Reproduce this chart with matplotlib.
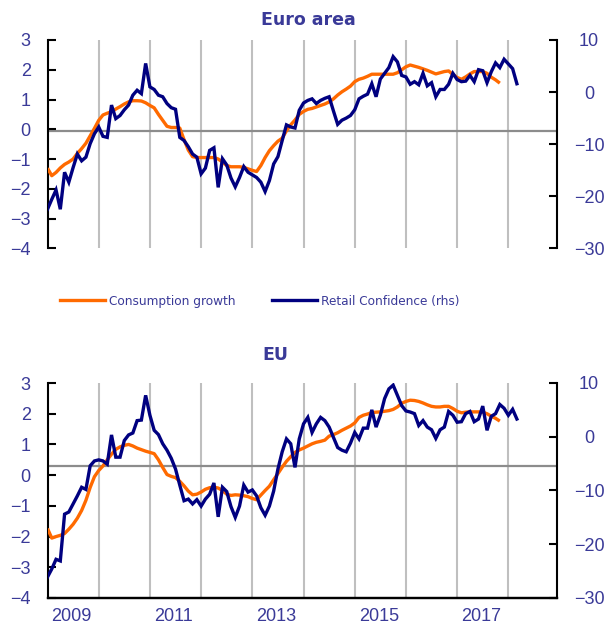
import numpy as np
import matplotlib
matplotlib.use("Agg")
import matplotlib.pyplot as plt
from matplotlib.lines import Line2D

# ---- data (monthly, starting Jan 2009) ----
start_year = 2009
ea_consumption = [-1.31, -1.56, -1.45, -1.30, -1.18, -1.10, -1.00, -0.81, -0.65, -0.47,
                  -0.22, 0.03, 0.30, 0.48, 0.54, 0.59, 0.68, 0.76, 0.85, 0.92,
                  0.96, 0.96, 0.95, 0.89, 0.80, 0.72, 0.50, 0.30, 0.10, 0.06,
                  0.06, 0.04, -0.35, -0.70, -0.92, -0.95, -0.95, -0.95, -0.95, -0.95,
                  -1.00, -1.10, -1.22, -1.26, -1.26, -1.26, -1.28, -1.33, -1.38, -1.42,
                  -1.22, -0.95, -0.72, -0.55, -0.40, -0.30, -0.05, 0.15, 0.31, 0.50,
                  0.60, 0.67, 0.70, 0.75, 0.80, 0.85, 0.92, 1.02, 1.15, 1.26,
                  1.35, 1.45, 1.60, 1.68, 1.72, 1.78, 1.85, 1.85, 1.85, 1.85,
                  1.85, 1.85, 1.90, 2.00, 2.10, 2.16, 2.12, 2.08, 2.03, 1.98,
                  1.92, 1.86, 1.90, 1.94, 1.96, 1.84, 1.74, 1.68, 1.76, 1.86,
                  1.94, 1.94, 1.94, 1.88, 1.75, 1.66, 1.55]
ea_confidence = [-22.5, -20.6, -18.8, -22.5, -15.4, -17.3, -14.5, -11.9, -13.2, -12.5,
                 -9.9, -8.0, -6.7, -8.5, -8.7, -2.5, -5.1, -4.5, -3.4, -2.5,
                 -0.6, 0.35, -0.3, 5.5, 1.0, 0.5, -0.6, -0.9, -2.2, -3.0,
                 -3.3, -8.7, -9.3, -10.5, -11.9, -12.5, -15.7, -14.6, -11.2, -10.7,
                 -18.3, -12.8, -14.0, -16.5, -18.2, -16.4, -14.3, -15.4, -15.9, -16.4,
                 -17.3, -19.1, -17.0, -13.8, -12.4, -9.3, -6.3, -6.7, -6.9, -3.5,
                 -2.1, -1.6, -1.3, -2.2, -1.6, -1.2, -0.9, -3.6, -6.2, -5.4,
                 -5.0, -4.5, -3.4, -1.3, -0.8, -0.4, 1.6, -0.9, 2.5, 3.6,
                 4.7, 6.8, 5.8, 3.2, 2.9, 1.5, 2.0, 1.4, 3.6, 1.2,
                 1.8, -0.9, 0.5, 0.5, 1.5, 3.6, 2.4, 2.0, 2.1, 3.2,
                 2.0, 4.3, 4.1, 1.8, 3.9, 5.6, 4.7, 6.3, 5.4, 4.5, 1.6]
eu_consumption = [-1.74, -2.05, -2.00, -1.96, -1.90, -1.76, -1.60, -1.40, -1.15, -0.82,
                  -0.40, -0.05, 0.15, 0.30, 0.50, 0.68, 0.84, 0.92, 0.97, 1.00,
                  0.95, 0.88, 0.83, 0.78, 0.74, 0.70, 0.50, 0.25, 0.02, -0.04,
                  -0.08, -0.20, -0.35, -0.52, -0.64, -0.62, -0.55, -0.46, -0.41, -0.39,
                  -0.42, -0.50, -0.62, -0.66, -0.64, -0.65, -0.67, -0.70, -0.76, -0.80,
                  -0.65, -0.50, -0.36, -0.15, 0.05, 0.26, 0.45, 0.60, 0.74, 0.82,
                  0.88, 0.95, 1.02, 1.07, 1.10, 1.14, 1.27, 1.32, 1.38, 1.46,
                  1.53, 1.60, 1.70, 1.88, 1.95, 1.99, 2.04, 2.05, 2.06, 2.08,
                  2.10, 2.14, 2.22, 2.34, 2.40, 2.44, 2.43, 2.40, 2.35, 2.29,
                  2.24, 2.22, 2.22, 2.24, 2.24, 2.17, 2.08, 2.03, 2.05, 2.06,
                  2.06, 2.06, 2.05, 2.00, 1.92, 1.85, 1.76]
eu_confidence = [-26.1, -24.6, -22.8, -23.1, -14.4, -14.0, -12.5, -11.0, -9.4, -9.8,
                 -5.4, -4.5, -4.3, -4.5, -5.1, 0.34, -3.8, -3.8, -0.7, 0.34,
                 0.7, 3.0, 3.1, 7.7, 4.0, 1.2, 0.4, -1.3, -2.5, -4.0,
                 -6.0, -9.0, -11.9, -11.6, -12.5, -11.7, -12.9, -11.6, -10.7, -8.6,
                 -14.9, -9.4, -10.2, -13.0, -15.0, -12.9, -9.0, -10.3, -9.9, -11.0,
                 -13.2, -14.6, -12.9, -10.1, -6.0, -2.8, -0.4, -1.3, -5.7, -0.4,
                 2.4, 3.6, 0.8, 2.4, 3.6, 3.0, 1.8, -0.1, -2.0, -2.5,
                 -2.8, -1.2, 0.8, -0.4, 1.6, 1.6, 5.0, 1.8, 4.0, 7.1,
                 8.9, 9.6, 7.7, 5.8, 4.8, 4.6, 4.3, 2.1, 3.0, 1.8,
                 1.3, -0.3, 1.3, 1.8, 4.7, 4.0, 2.7, 2.8, 4.3, 4.7,
                 2.8, 3.3, 5.7, 1.2, 3.8, 4.3, 6.0, 5.3, 4.0, 5.1, 3.3]
year_labels = ["2009", "2011", "2013", "2015", "2017"]
panel_titles = ["Euro area", "EU"]
reference_levels = [-0.07, 0.31]
series_names = ["Consumption growth", "Retail Confidence (rhs)"]

ORANGE = "#FF6A00"
NAVY = "#000080"
TXT = "#3A3A98"
GRID = "#BFBFBF"

W, H = 611, 625
plt.rcParams["font.family"] = ["Liberation Sans", "DejaVu Sans"]
fig = plt.figure(figsize=(W / 100, H / 100), dpi=100)


def px_axes(x0, y0, x1, y1):
    return fig.add_axes([x0 / W, 1 - y1 / H, (x1 - x0) / W, (y1 - y0) / H])


panels = []


def make_panel(box, cons, conf, title, ref, show_x, title_xy):
    ax = px_axes(*box)
    ax2 = ax.twinx()
    t_c = start_year + np.arange(len(cons)) / 12.0
    t_r = start_year + np.arange(len(conf)) / 12.0
    xmax = start_year + 9.95
    for yr in range(start_year + 1, start_year + 10):
        ax.axvline(yr, color=GRID, lw=1.5, zorder=0)
    ax.axhline(ref, color="#8C8C8C", lw=1.6, zorder=1)
    ax.plot(t_c, cons, color=ORANGE, lw=2.4, zorder=3, solid_capstyle="butt")
    ax2.plot(t_r, conf, color=NAVY, lw=2.4, zorder=3, solid_joinstyle="miter")
    ax.set_xlim(start_year, xmax)
    ax.set_ylim(-4, 3)
    ax2.set_ylim(-30, 10)
    ax.set_yticks(range(-4, 4))
    ax2.set_yticks(range(-30, 11, 10))
    for a in (ax, ax2):
        a.spines["top"].set_visible(False)
        a.spines["bottom"].set_visible(show_x)
        a.spines["bottom"].set_linewidth(1.6)
        a.set_facecolor("none")
    ax.spines["right"].set_visible(False)
    ax2.spines["left"].set_visible(False)
    ax.spines["left"].set_linewidth(1.5)
    ax2.spines["right"].set_linewidth(1.5)
    ax.tick_params(axis="y", direction="in", length=6, width=1.5, pad=12,
                   labelsize=13, labelcolor=TXT)
    ax2.tick_params(axis="y", direction="in", length=6, width=1.5, pad=23,
                    labelsize=13, labelcolor=TXT)
    if show_x:
        ax.set_xticks([start_year + 2 * i + 0.47 for i in range(len(year_labels))])
        ax.set_xticklabels(year_labels)
        ax.tick_params(axis="x", length=0, pad=7, labelsize=13, labelcolor=TXT)
    else:
        ax.set_xticks([])
    fig.text(title_xy[0] / W, 1 - title_xy[1] / H, title, ha="center", va="center",
             fontsize=12.5, fontweight="bold", color=TXT, family="DejaVu Sans")
    panels.append(ax2)
    return ax, ax2


make_panel((47.5, 40, 557, 248.3), ea_consumption, ea_confidence, panel_titles[0],
           reference_levels[0], False, (308, 20))
make_panel((47.5, 383, 557, 598), eu_consumption, eu_confidence, panel_titles[1],
           reference_levels[1], True, (275, 355))

handles = [Line2D([], [], color=ORANGE, lw=2.4), Line2D([], [], color=NAVY, lw=2.4)]
fig.legend(handles, series_names, loc="center", bbox_to_anchor=(260 / W, 1 - 301 / H),
           ncol=2, frameon=False, handlelength=3.7, handletextpad=0.35,
           columnspacing=3.0, labelcolor=TXT, prop={"family": "DejaVu Sans", "size": 8.7})

fig.canvas.draw()
for ax2 in panels:
    for tk in ax2.yaxis.get_major_ticks():
        tk.label2.set_horizontalalignment("center")

fig.savefig("out.png", dpi=100)
